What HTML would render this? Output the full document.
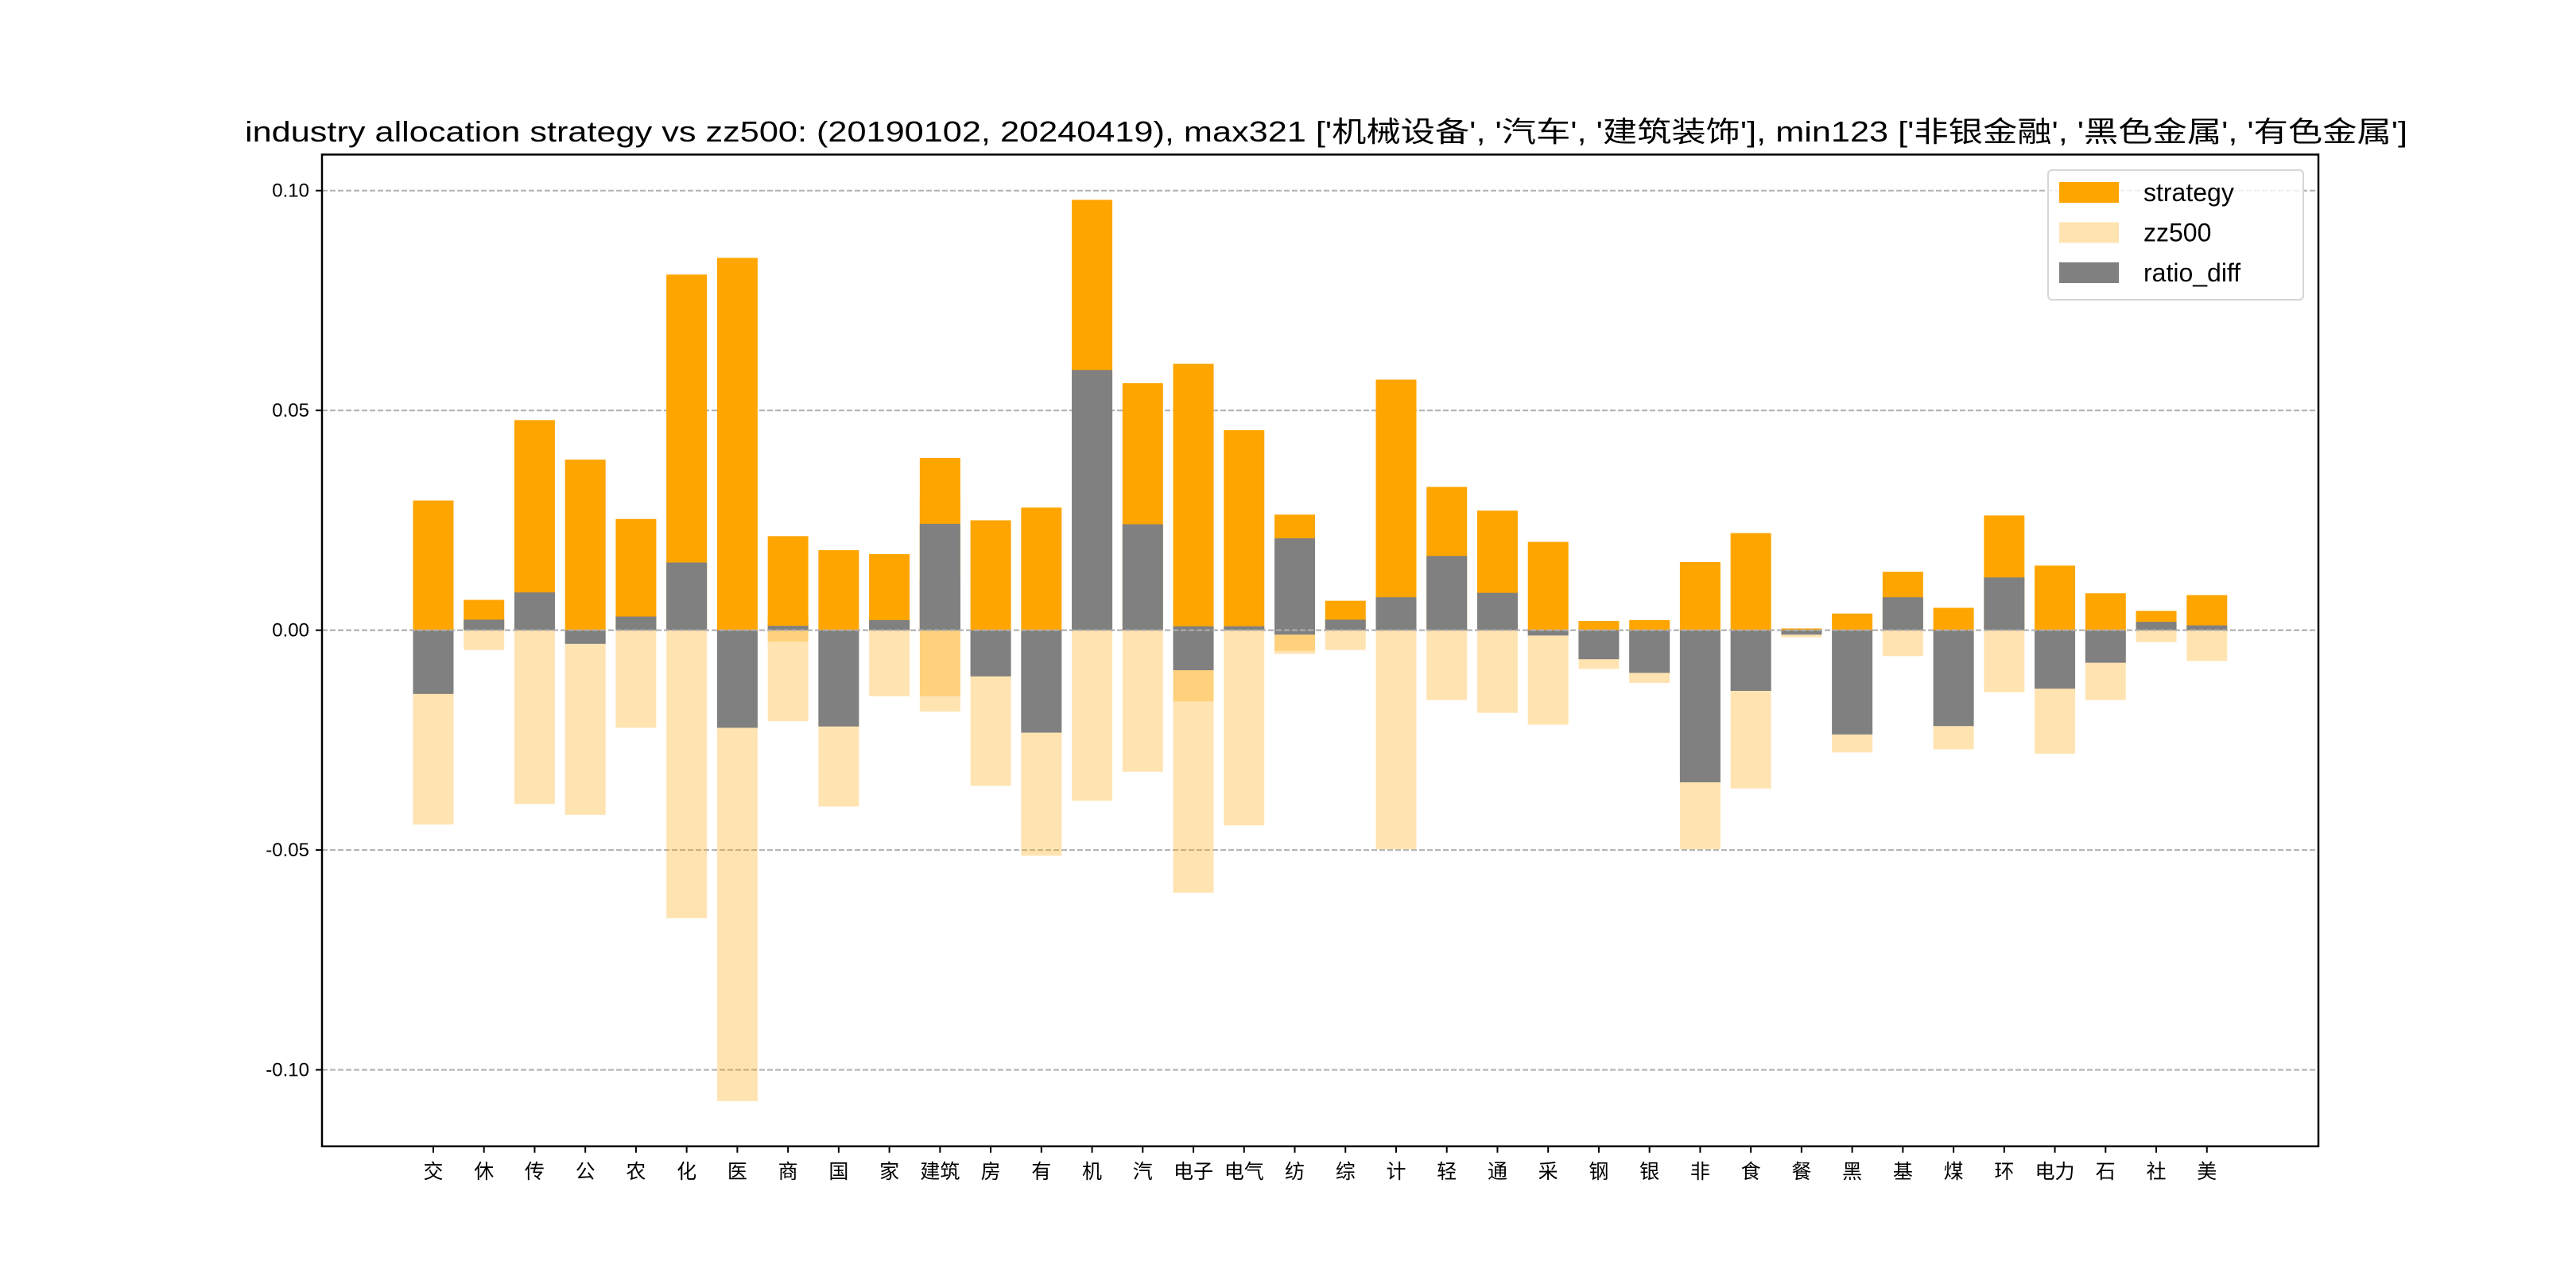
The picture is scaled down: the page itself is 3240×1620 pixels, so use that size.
<!DOCTYPE html>
<html><head><meta charset="utf-8"><style>
html,body{margin:0;padding:0;background:#fff;}
svg{display:block;}
text{font-family:"Liberation Sans","Noto Sans CJK SC",sans-serif;fill:#000;}
</style></head>
<body>
<svg id="chart" width="3240" height="1620" viewBox="0 0 3240 1620" xmlns="http://www.w3.org/2000/svg">
<rect width="3240" height="1620" fill="#fff"/>
<text x="1668" y="178" font-size="36" text-anchor="middle" textLength="2720" lengthAdjust="spacingAndGlyphs">industry allocation strategy vs zz500: (20190102, 20240419), max321 ['机械设备', '汽车', '建筑装饰'], min123 ['非银金融', '黑色金属', '有色金属']</text>
<g id="grid"></g>
<g id="bars"></g>
<g id="axes"></g>
<g id="legend"></g>
</svg>
<script>
const labels = ["交","休","传","公","农","化","医","商","国","家","建筑","房","有","机","汽","电子","电气","纺","综","计","轻","通","采","钢","银","非","食","餐","黑","基","煤","环","电力","石","社","美"];
const barCats = ["交","休","传","公","农","化","医","商","国","家","建筑","房","有","机","汽","电子","电气","纺","综","计","轻","通","采","钢","银","非","食","餐","黑","基","煤","环","电力","石","社","美","商","建筑","电子","纺"];
const strategy = [0.0295,0.0069,0.0478,0.0388,0.0253,0.0809,0.0847,0.0214,0.0182,0.0173,0.0392,0.0250,0.0279,0.0979,0.0562,0.0606,0.0455,0.0263,0.0067,0.0570,0.0326,0.0272,0.0201,0.0021,0.0023,0.0155,0.0221,0.0004,0.0038,0.0133,0.0051,0.0261,0.0147,0.0084,0.0044,0.0080,0.0030,0.0300,0.0071,0.0037];
const zz500 = [0.0442,0.0045,0.0395,0.0420,0.0222,0.0655,0.1071,0.0207,0.0401,0.0150,0.0150,0.0354,0.0513,0.0388,0.0322,0.0597,0.0444,0.0054,0.0045,0.0498,0.0159,0.0188,0.0215,0.0088,0.0120,0.0498,0.0360,0.0016,0.0278,0.0059,0.0271,0.0141,0.0281,0.0159,0.0027,0.0070,0.0026,0.0185,0.0162,0.0047];
const ratioDiff = [-0.0145,0.0024,0.0086,-0.0031,0.0031,0.0154,-0.0222,0.0010,-0.0219,0.0023,0.0242,-0.0105,-0.0233,0.0592,0.0241,0.0009,0.0009,0.0209,0.0024,0.0075,0.0169,0.0085,-0.0012,-0.0066,-0.0097,-0.0346,-0.0138,-0.0010,-0.0237,0.0075,-0.0218,0.0120,-0.0133,-0.0074,0.0019,0.0011,0.0004,0.0115,-0.0091,-0.0010];
const yTicks = [0.10,0.05,0.00,-0.05,-0.10];
const yTickLabels = ["0.10","0.05","0.00","-0.05","-0.10"];
const seriesNames = ["strategy","zz500","ratio_diff"];

const NS="http://www.w3.org/2000/svg";
const AX={l:405,r:2916,t:194.4,b:1441.8};
const XMIN=-2.196, XMAX=37.2;
const YMIN=-0.1174, YMAX=0.1082;
function xScale(i){return AX.l+(i-XMIN)*(AX.r-AX.l)/(XMAX-XMIN);}
function yScale(v){return AX.b-(v-YMIN)*(AX.b-AX.t)/(YMAX-YMIN);}
const bw=0.8*(AX.r-AX.l)/(XMAX-XMIN);
function mk(tag,attrs,parent){const e=document.createElementNS(NS,tag);for(const k in attrs)e.setAttribute(k,attrs[k]);parent.appendChild(e);return e;}

const grid=document.getElementById('grid');
yTicks.forEach((v,i)=>{
  const l=mk('line',{x1:AX.l,x2:AX.r,y1:yScale(v),y2:yScale(v),stroke:'#b0b0b0','stroke-width':2,'stroke-dasharray':'7,3'},grid);
  
  
});

const bars=document.getElementById('bars');
function bar(i,v,fill,op,name){
  const x=xScale(labels.indexOf(barCats[i]))-bw/2;
  const y0=yScale(0),y1=yScale(v);
  const r=mk('rect',{x:x,y:Math.min(y0,y1),width:bw,height:Math.abs(y1-y0),fill:fill,'fill-opacity':op},bars);
  
  
}
strategy.forEach((v,i)=>bar(i,v,'#FFA500',1,'strategy-bar'));
zz500.forEach((v,i)=>bar(i,-v,'#FFA500',0.3,'zz500-bar'));
ratioDiff.forEach((v,i)=>bar(i,v,'#808080',1,'ratio-diff-bar'));
// redraw zero gridline on top of bars
const zl=mk('line',{x1:AX.l,x2:AX.r,y1:yScale(0),y2:yScale(0),stroke:'#b0b0b0','stroke-width':2,'stroke-dasharray':'7,3'},bars);



const axes=document.getElementById('axes');
const frame=mk('rect',{x:AX.l,y:AX.t,width:AX.r-AX.l,height:AX.b-AX.t,fill:'none',stroke:'#000','stroke-width':2.5},axes);


yTicks.forEach((v,i)=>{
  const y=yScale(v);
  const t=mk('line',{x1:AX.l-8,x2:AX.l,y1:y,y2:y,stroke:'#000','stroke-width':2},axes);
  
  
  const tx=mk('text',{x:AX.l-16,y:y+8,'font-size':24,'text-anchor':'end'},axes);
  tx.textContent=yTickLabels[i];
  
  
});
labels.forEach((lab,i)=>{
  const x=xScale(i);
  const t=mk('line',{x1:x,x2:x,y1:AX.b,y2:AX.b+8,stroke:'#000','stroke-width':2},axes);
  
  
  const tx=mk('text',{x:x,y:AX.b+40,'font-size':25,'text-anchor':'middle'},axes);
  tx.textContent=lab;
  
  
});

const lg=document.getElementById('legend');
const box=mk('rect',{x:2576,y:214,width:321,height:163,rx:5,fill:'#fff','fill-opacity':0.8,stroke:'#d6d6d6','stroke-width':2},lg);


const lcol=[['#FFA500',1],['#FFA500',0.3],['#808080',1]];
seriesNames.forEach((n,i)=>{
  const y=242+i*50.5;
  const p=mk('rect',{x:2590,y:y-13,width:75,height:26,fill:lcol[i][0],'fill-opacity':lcol[i][1]},lg);
  
  
  const t=mk('text',{x:2696,y:y+11,'font-size':32},lg);
  t.textContent=n;
  
  
});
</script>
</body></html>
